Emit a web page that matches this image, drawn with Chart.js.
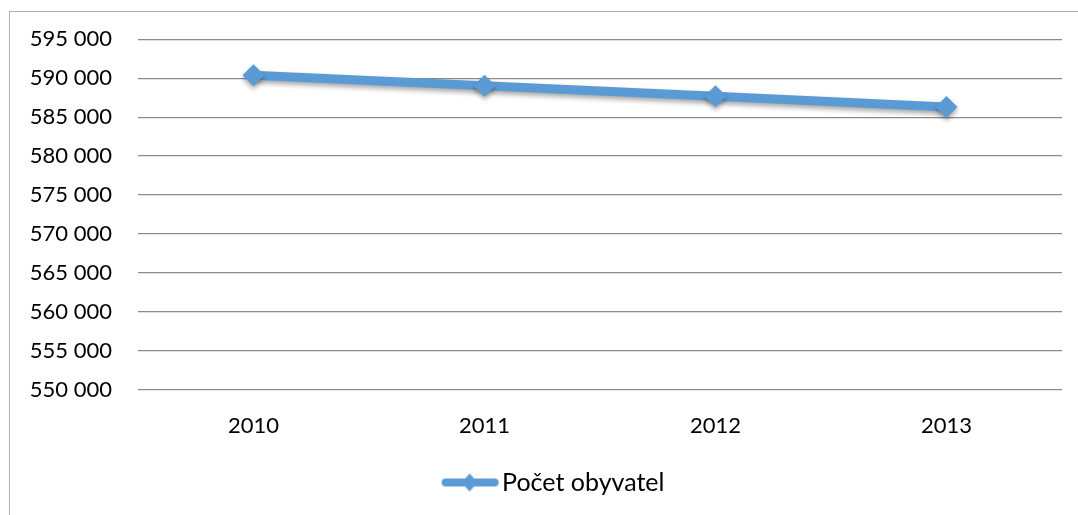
<!DOCTYPE html>
<html>
<head>
<meta charset="utf-8">
<script src="https://cdn.jsdelivr.net/npm/chart.js@4.4.1/dist/chart.umd.min.js"></script>
<style>
  html, body { margin: 0; padding: 0; background: #fff; }
  #wrap { width: 1078px; height: 515px; }
</style>
</head>
<body>
<div id="wrap"><canvas id="myChart"></canvas></div>
<script>
var years = ['2010', '2011', '2012', '2013'];
var obyvatel = [590361, 589030, 587693, 586299];
var seriesName = 'Počet obyvatel';
var yMin = 550000, yMax = 595000, yStep = 5000;

var blue = '#5B9BD5';
var fontFam = 'Lato, "Open Sans", sans-serif';

// legend symbol: line with diamond (left part left blank so it sits right in its box)
var sym = document.createElement('canvas');
sym.width = 112; sym.height = 22;
var sc = sym.getContext('2d');
sc.strokeStyle = blue; sc.lineWidth = 8; sc.lineCap = 'round';
sc.beginPath(); sc.moveTo(58, 11); sc.lineTo(107, 11); sc.stroke();
sc.fillStyle = blue;
sc.beginPath(); sc.moveTo(82, 2); sc.lineTo(90, 11); sc.lineTo(82, 20); sc.lineTo(74, 11); sc.closePath(); sc.fill();

var frame = {
  id: 'frame',
  beforeDraw: function (chart) {
    var c = chart.ctx;
    c.save();
    c.strokeStyle = '#b0b0b0';
    c.lineWidth = 1;
    c.strokeRect(9.5, 11.5, 1200, 600);
    c.restore();
  }
};

var shadow = {
  id: 'shadow',
  beforeDatasetsDraw: function (chart) {
    var c = chart.ctx;
    c.save();
    c.shadowColor = 'rgba(0,0,0,0.35)';
    c.shadowBlur = 5;
    c.shadowOffsetY = 3;
  },
  afterDatasetsDraw: function (chart) {
    chart.ctx.restore();
  }
};

var ctx = document.getElementById('myChart');

var myChart = new Chart(ctx, {
  type: 'line',
  data: {
    labels: years,
    datasets: [{
      label: seriesName,
      data: obyvatel,
      borderColor: blue,
      backgroundColor: blue,
      borderWidth: 9,
      tension: 0,
      pointStyle: 'rectRot',
      pointRadius: 11,
      pointHoverRadius: 11,
      pointBackgroundColor: blue,
      pointBorderWidth: 0
    }]
  },
  plugins: [frame, shadow],
  options: {
    responsive: true,
    maintainAspectRatio: false,
    animation: false,
    layout: { padding: { top: 38, left: 0, right: 16, bottom: 10 } },
    plugins: {
      tooltip: { enabled: false },
      legend: {
        position: 'bottom',
        labels: {
          color: '#000',
          font: { family: fontFam, size: 25 },
          usePointStyle: true,
          pointStyleWidth: 92,
          padding: 19,
          generateLabels: function (chart) {
            return [{
              text: seriesName,
              pointStyle: sym,
              fillStyle: blue,
              strokeStyle: blue,
              lineWidth: 0,
              datasetIndex: 0
            }];
          }
        }
      }
    },
    scales: {
      x: {
        offset: true,
        grid: { display: false, drawTicks: false },
        border: { display: false },
        ticks: { color: '#000', font: { family: fontFam, size: 22 }, padding: 23 },
        afterFit: function (s) { s.height = 61; }
      },
      y: {
        min: yMin,
        max: yMax,
        grid: { color: '#8c8c8c', lineWidth: 1.3, drawTicks: false },
        border: { display: false },
        ticks: {
          stepSize: yStep,
          color: '#000',
          padding: 26,
          font: { family: fontFam, size: 22 },
          callback: function (v) {
            return String(v).replace(/\B(?=(\d{3})+(?!\d))/g, ' ');
          }
        },
        afterFit: function (s) { s.width = 138; }
      }
    }
  }
});
</script>
</body>
</html>
